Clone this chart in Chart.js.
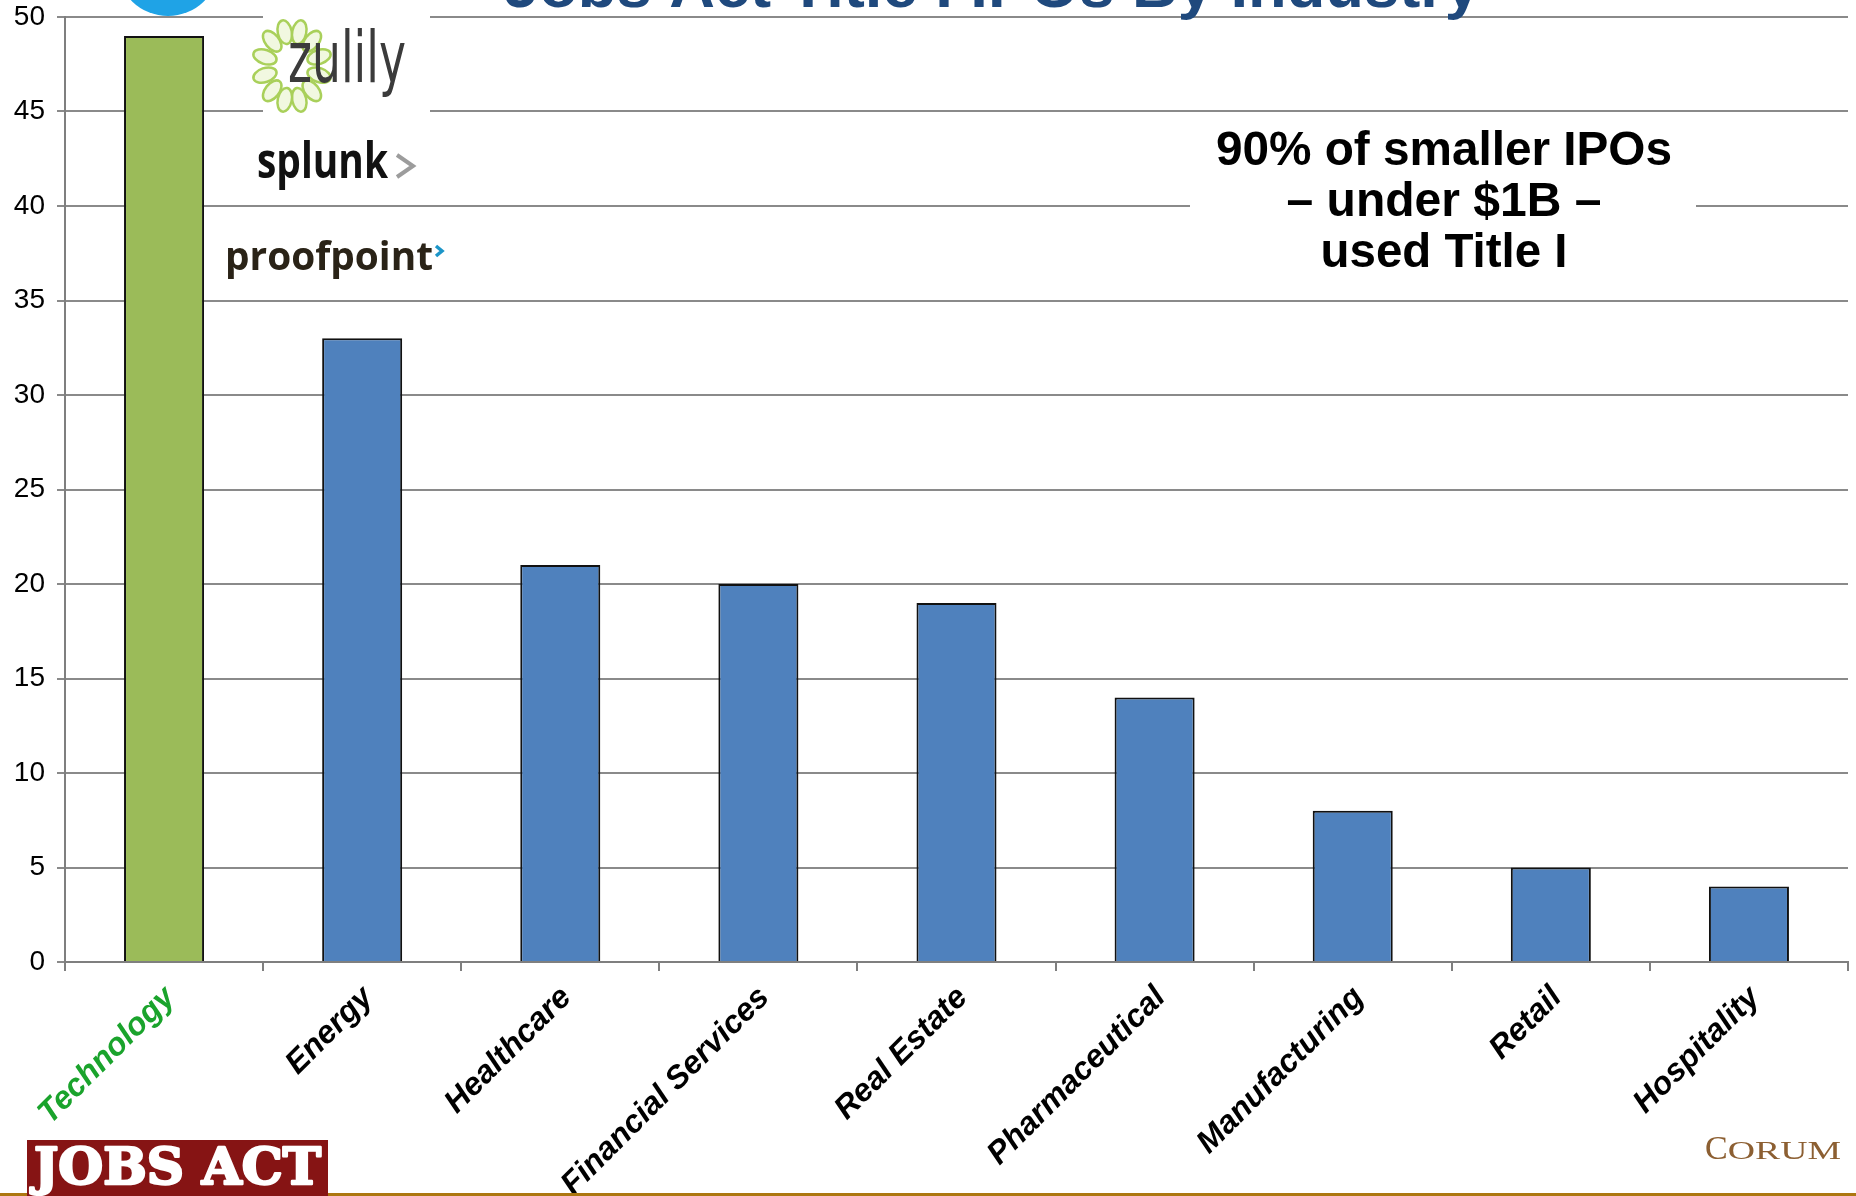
<!DOCTYPE html>
<html>
<head>
<meta charset="utf-8">
<script src="https://cdn.jsdelivr.net/npm/chart.js@4.4.1/dist/chart.umd.min.js"></script>
<style>
  html, body { margin: 0; padding: 0; background: #ffffff; overflow: hidden; }
  #wrap { width: 1856px; height: 1196px; position: relative; }
</style>
</head>
<body>
<div id="wrap"><canvas id="chart" width="1856" height="1196"></canvas></div>
<script>
// Industry breakdown of Title I IPOs
const industries = ['Technology', 'Energy', 'Healthcare', 'Financial Services', 'Real Estate',
                    'Pharmaceutical', 'Manufacturing', 'Retail', 'Hospitality'];
const ipoCounts = [49, 33, 21, 20, 19, 14, 8, 5, 4];
const barColors = ['#9BBB59', '#4F81BD', '#4F81BD', '#4F81BD', '#4F81BD',
                   '#4F81BD', '#4F81BD', '#4F81BD', '#4F81BD'];
const labelColors = ['#1aa32c', '#000000', '#000000', '#000000', '#000000',
                     '#000000', '#000000', '#000000', '#000000'];
const yMin = 0, yMax = 50, yStep = 5;

const titleText = 'Jobs Act Title I IPOs By Industry';
const calloutLines = ['90% of smaller IPOs', '\u2013 under $1B \u2013', 'used Title I'];
const techLogos = ['zulily', 'splunk', 'proofpoint'];

// draw a line of text squeezed/stretched to an exact width
function fitText(ctx, text, left, baseline, width, font, color) {
  ctx.save();
  ctx.font = font;
  const w = ctx.measureText(text).width;
  ctx.translate(left, baseline);
  ctx.scale(width / w, 1);
  ctx.fillStyle = color;
  ctx.textAlign = 'left';
  ctx.textBaseline = 'alphabetic';
  ctx.fillText(text, 0, 0);
  ctx.restore();
}

function fitCentered(ctx, text, cx, baseline, width, font, color) {
  fitText(ctx, text, cx - width / 2, baseline, width, font, color);
}

function chevron(ctx, pts, color, width) {
  ctx.save();
  ctx.beginPath();
  ctx.moveTo(pts[0][0], pts[0][1]);
  for (let i = 1; i < pts.length; i++) ctx.lineTo(pts[i][0], pts[i][1]);
  ctx.strokeStyle = color;
  ctx.lineWidth = width;
  ctx.lineJoin = 'miter';
  ctx.lineCap = 'butt';
  ctx.stroke();
  ctx.restore();
}

const decorations = {
  id: 'decorations',
  // white backdrops sit over the grid but under the bars
  beforeDatasetsDraw(chart) {
    const ctx = chart.ctx;
    ctx.save();
    ctx.fillStyle = '#ffffff';
    ctx.fillRect(263, 15, 167, 100);    // zulily logo backdrop
    ctx.fillRect(1190, 122, 506, 158);  // callout backdrop
    ctx.restore();
  },
  afterDraw(chart) {
    const ctx = chart.ctx;

    // bird mark peeking in at the top edge
    ctx.save();
    ctx.beginPath();
    ctx.ellipse(168, -32, 50, 48, 0, 0, Math.PI * 2);
    ctx.fillStyle = '#1fa3e6';
    ctx.fill();
    ctx.restore();

    // title, mostly above the visible area
    fitText(ctx, titleText, 504, 7, 976, 'bold 62px "Liberation Sans"', '#1f497d');

    // zulily: ring of leaves and the word mark
    ctx.save();
    for (let k = 0; k < 12; k++) {
      const a = k * Math.PI / 6 + Math.PI / 12;
      const x = 292 + 28 * Math.cos(a), y = 66 + 35 * Math.sin(a);
      ctx.save();
      ctx.translate(x, y);
      ctx.rotate(Math.atan2(35 * Math.sin(a), 28 * Math.cos(a)));
      ctx.beginPath();
      ctx.ellipse(0, 0, 12, 7, 0, 0, Math.PI * 2);
      ctx.fillStyle = '#f1f8e0';
      ctx.fill();
      ctx.strokeStyle = '#a9d05a';
      ctx.lineWidth = 2.5;
      ctx.stroke();
      ctx.restore();
    }
    ctx.restore();
    fitText(ctx, techLogos[0], 288, 82, 118, '72px "DejaVu Sans"', '#3b3b3b');

    // splunk>
    fitText(ctx, techLogos[1], 257, 178, 131, 'bold 50px "Open Sans"', '#111111');
    chevron(ctx, [[397, 155], [413, 166], [397, 177]], '#9c9c9c', 4);

    // proofpoint with its blue chevron
    fitText(ctx, techLogos[2], 225, 270, 208, 'bold 40px "Open Sans"', '#2a2317');
    chevron(ctx, [[436, 246], [442, 251], [436, 256]], '#1c95c8', 3.5);

    // callout
    const cf = 'bold 48px "Liberation Sans"';
    fitCentered(ctx, calloutLines[0], 1444, 165, 456, cf, '#000000');
    fitCentered(ctx, calloutLines[1], 1444, 216, 315, cf, '#000000');
    fitCentered(ctx, calloutLines[2], 1444, 267, 247, cf, '#000000');

    // footer rule
    ctx.save();
    ctx.fillStyle = '#ad7710';
    ctx.fillRect(0, 1193, 1856, 3);
    ctx.restore();

    // JOBS ACT badge
    ctx.save();
    ctx.fillStyle = '#861414';
    ctx.fillRect(27, 1140, 301, 56);
    ctx.restore();
    ctx.save();
    ctx.font = 'bold 50px "DejaVu Serif"';
    const jw = ctx.measureText('JOBS ACT').width;
    ctx.translate(34, 1184);
    ctx.scale(287 / jw, 1);
    ctx.lineJoin = 'round';
    ctx.strokeStyle = '#ffffff';
    ctx.lineWidth = 2.5;
    ctx.strokeText('JOBS ACT', 0, 0);
    ctx.fillStyle = '#ffffff';
    ctx.fillText('JOBS ACT', 0, 0);
    ctx.restore();

    // CORUM word mark in small caps
    ctx.save();
    ctx.fillStyle = '#8c5f32';
    ctx.textBaseline = 'alphabetic';
    ctx.font = '34px "Liberation Serif"';
    const cW = ctx.measureText('C').width;
    ctx.fillText('C', 1705, 1159);
    ctx.font = '26px "Liberation Serif"';
    const rest = 'ORUM';
    const rW = ctx.measureText(rest).width;
    ctx.translate(1705 + cW, 1159);
    ctx.scale((1841 - 1705 - cW) / rW, 1);
    ctx.fillText(rest, 0, 0);
    ctx.restore();
  }
};

new Chart(document.getElementById('chart'), {
  type: 'bar',
  data: {
    labels: industries,
    datasets: [{
      data: ipoCounts,
      backgroundColor: barColors,
      borderColor: '#111111',
      borderWidth: 2,
      barPercentage: 0.404,
      categoryPercentage: 1
    }]
  },
  options: {
    responsive: false,
    animation: false,
    layout: { padding: { top: 17, right: 8, bottom: 0, left: 0 } },
    plugins: {
      legend: { display: false },
      tooltip: { enabled: false },
      title: { display: false }
    },
    scales: {
      x: {
        grid: { display: true, drawOnChartArea: false, drawTicks: true, tickLength: 9,
                color: '#7f7f7f', lineWidth: 2, offset: true },
        border: { display: true, color: '#7f7f7f', width: 2 },
        ticks: {
          autoSkip: false, maxRotation: 45, minRotation: 45, padding: 8, labelOffset: 6,
          color: labelColors,
          font: { family: 'Liberation Sans', size: 32, weight: 'bold', style: 'italic' }
        },
        afterFit(s) { s.height = 234; s.paddingLeft = 0; s.paddingRight = 0; }
      },
      y: {
        min: yMin, max: yMax,
        ticks: { stepSize: yStep, padding: 12, color: '#000000',
                 font: { family: 'Liberation Sans', size: 28 } },
        grid: { color: '#8a8a8a', lineWidth: 2, tickLength: 8 },
        border: { display: true, color: '#7f7f7f', width: 2 },
        afterFit(s) { s.width = 65; s.paddingTop = 0; s.paddingBottom = 0; }
      }
    }
  },
  plugins: [decorations]
});
</script>
</body>
</html>
